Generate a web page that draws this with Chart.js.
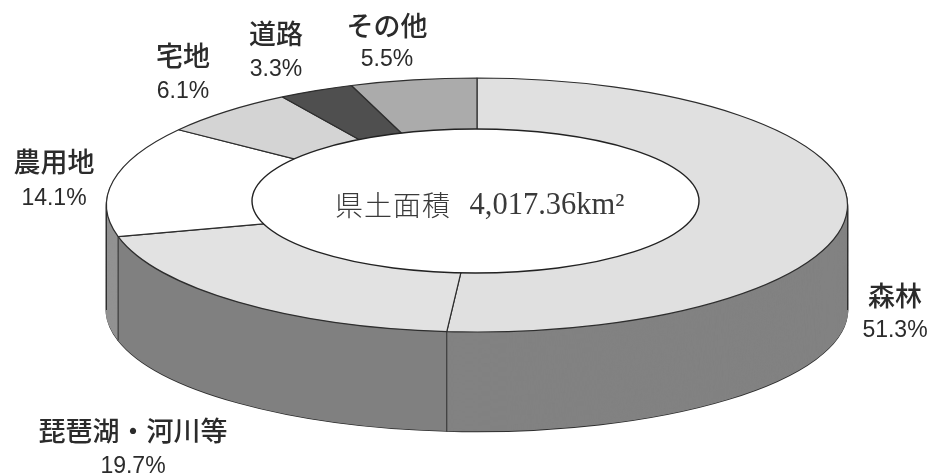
<!DOCTYPE html>
<html lang="ja">
<head>
<meta charset="utf-8">
<style>
html,body{margin:0;padding:0;background:#fff;}
canvas{display:block;}
</style>
<script src="https://cdn.jsdelivr.net/npm/chart.js@4"></script>
</head>
<body>
<canvas id="c" width="931" height="476"></canvas>
<script>
const categories = ['森林', '琵琶湖・河川等', '農用地', '宅地', '道路', 'その他'];
const shares = [51.3, 19.7, 14.1, 6.1, 3.3, 5.5];
const centerName = '県土面積';
const centerArea = '4,017.36km²';

const topColors = ['#e0e0e0', '#e2e2e2', '#ffffff', '#d4d4d4', '#4f4f4f', '#ababab'];
const sideColors = ['#828282', '#808080', '#929292', '#808080', '#808080', '#808080'];
const INK = '#2e2e2e';
const TEXT = '#2b2b2b';
const TOP = {cx: 477, cy: 205, rx: 370.5, ry: 127};
const BOTTOM = {cy: 310, ry: 121.5};
const LAYERS = 105;
const HOLE = {cx: 475.5, cy: 201, rx: 223.5, ry: 72};
const LABEL_POS = [
  {x: 895, y1: 296, y2: 331},
  {x: 133, y1: 431, y2: 467},
  {x: 54,  y1: 162, y2: 199},
  {x: 183, y1: 56,  y2: 92},
  {x: 276, y1: 34,  y2: 70},
  {x: 387, y1: 26,  y2: 60}
];

function evenStroke(ctx) {
  // keep stroke widths even although the ring is drawn in a squashed space
  const nativeStroke = CanvasRenderingContext2D.prototype.stroke;
  ctx.stroke = function () {
    const m = ctx.getTransform();
    ctx.setTransform(1, 0, 0, 1, 0, 0);
    nativeStroke.call(ctx);
    ctx.setTransform(m);
  };
}

function project(ctx, arc, t) {
  const cy = TOP.cy + (BOTTOM.cy - TOP.cy) * t;
  const ry = TOP.ry + (BOTTOM.ry - TOP.ry) * t;
  ctx.translate(TOP.cx, cy);
  ctx.scale(TOP.rx / arc.outerRadius, ry / arc.outerRadius);
  ctx.translate(-arc.x, -arc.y);
}

const ringPlugin = {
  id: 'ring',
  beforeDatasetsDraw(chart) {
    const ctx = chart.ctx;
    const arcs = chart.getDatasetMeta(0).data;
    const base = arcs[0];
    // side wall: the same arcs, repeated downward
    evenStroke(ctx);
    for (let d = LAYERS; d >= 1; d--) {
      arcs.forEach((arc, i) => {
        const o = arc.options;
        ctx.save();
        project(ctx, base, d / LAYERS);
        arc.options = Object.assign({}, o, {
          backgroundColor: sideColors[i],
          borderColor: d === LAYERS ? INK : sideColors[i],
          borderWidth: d === LAYERS ? 1.5 : 1.6
        });
        arc.draw(ctx, chart.chartArea);
        arc.options = o;
        ctx.restore();
      });
    }
    delete ctx.stroke;
    // vertical edges of the wall
    ctx.save();
    ctx.strokeStyle = INK;
    ctx.lineWidth = 1;
    const edges = [0, Math.PI].concat(arcs.map(a => a.endAngle));
    edges.forEach(a => {
      const s = Math.sin(a);
      if (s >= -1e-9) {
        const px = TOP.cx + TOP.rx * Math.cos(a);
        ctx.beginPath();
        ctx.moveTo(px, TOP.cy + TOP.ry * s);
        ctx.lineTo(px, BOTTOM.cy + BOTTOM.ry * s);
        ctx.stroke();
      }
    });
    ctx.restore();
    // top face drawn by the library in the squashed space
    ctx.save();
    project(ctx, base, 0);
    evenStroke(ctx);
  },
  afterDatasetsDraw(chart) {
    const ctx = chart.ctx;
    delete ctx.stroke;
    ctx.restore();
    ctx.save();
    ctx.beginPath();
    ctx.ellipse(HOLE.cx, HOLE.cy, HOLE.rx, HOLE.ry, 0, 0, Math.PI * 2);
    ctx.fillStyle = '#ffffff';
    ctx.fill();
    ctx.strokeStyle = '#222222';
    ctx.lineWidth = 1.4;
    ctx.stroke();
    ctx.restore();
  },
  afterDraw(chart) {
    const ctx = chart.ctx;
    ctx.save();
    ctx.textAlign = 'center';
    ctx.textBaseline = 'middle';
    ctx.fillStyle = TEXT;
    categories.forEach((name, i) => {
      const p = LABEL_POS[i];
      ctx.font = '500 27px "Noto Sans CJK JP"';
      ctx.fillText(name, p.x, p.y1);
      ctx.font = '400 23px "Liberation Sans"';
      ctx.fillText(shares[i].toFixed(1) + '%', p.x, p.y2);
    });
    ctx.fillStyle = '#3a3a3a';
    ctx.font = '300 28px "Noto Sans CJK JP"';
    ctx.letterSpacing = '1px';
    ctx.fillText(centerName, 393, 205);
    ctx.letterSpacing = '0px';
    ctx.font = '400 30.5px "Liberation Serif"';
    ctx.fillText(centerArea, 547, 206);
    ctx.restore();
  }
};

new Chart(document.getElementById('c'), {
  type: 'doughnut',
  data: {
    labels: categories,
    datasets: [{
      data: shares,
      backgroundColor: topColors,
      borderColor: INK,
      borderWidth: 1.2,
      borderAlign: 'center',
      clip: false
    }]
  },
  options: {
    responsive: false,
    animation: false,
    cutout: '50%',
    layout: {padding: 0},
    plugins: {legend: {display: false}, tooltip: {enabled: false}, title: {display: false}}
  },
  plugins: [ringPlugin]
});
</script>
</body>
</html>
